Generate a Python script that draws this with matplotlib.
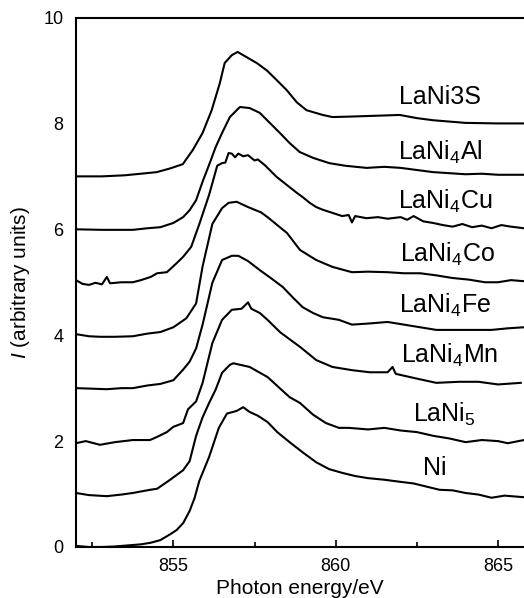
import matplotlib
matplotlib.use('Agg')
import matplotlib.pyplot as plt
from matplotlib.ticker import MultipleLocator

plt.rcParams['font.family'] = ['Liberation Sans', 'DejaVu Sans']
plt.rcParams['mathtext.fontset'] = 'custom'
plt.rcParams['mathtext.rm'] = 'Liberation Sans'
plt.rcParams['mathtext.it'] = 'Liberation Sans:italic'
plt.rcParams['mathtext.default'] = 'regular'

# spectra (already offset by 1 unit each)
ni_x = [852.0, 852.4, 852.8, 853.2, 853.6, 854.0, 854.3, 854.6, 854.9, 855.1, 855.3, 855.5,
        855.65, 855.8, 856.1, 856.4, 856.65, 856.95, 857.15, 857.35, 857.6, 857.9, 858.2,
        858.6, 859.0, 859.4, 859.8, 860.2, 860.6, 861.0, 861.5, 862.0, 862.4, 862.8, 863.2,
        863.6, 864.0, 864.4, 864.8, 865.2, 865.8]
ni_y = [0.02, 0.0, 0.0, 0.01, 0.03, 0.05, 0.08, 0.13, 0.24, 0.32, 0.45, 0.68,
        0.92, 1.25, 1.7, 2.25, 2.52, 2.57, 2.64, 2.55, 2.48, 2.36, 2.17,
        1.97, 1.78, 1.6, 1.47, 1.4, 1.34, 1.3, 1.27, 1.23, 1.2, 1.14, 1.08,
        1.07, 1.02, 0.99, 0.93, 0.97, 0.94]

lani5_x = [852.0, 852.4, 852.95, 853.4, 853.75, 854.28, 854.5, 854.9, 855.3, 855.5, 855.7,
           855.9, 856.1, 856.3, 856.5, 856.74, 856.85, 857.35, 857.9, 858.58, 858.9, 859.3,
           859.7, 860.1, 860.4, 861.0, 861.5, 862.0, 862.5, 863.0, 863.5, 864.0, 864.5,
           865.0, 865.3, 865.8]
lani5_y = [1.02, 0.98, 0.96, 0.99, 1.02, 1.08, 1.1, 1.27, 1.45, 1.62, 2.1,
           2.45, 2.72, 2.97, 3.29, 3.44, 3.47, 3.4, 3.21, 2.83, 2.72, 2.5,
           2.34, 2.25, 2.25, 2.22, 2.25, 2.2, 2.17, 2.1, 2.05, 1.98, 2.02,
           2.0, 1.96, 2.02]

mn_x = [852.0, 852.3, 852.74, 853.2, 853.75, 854.28, 854.5, 854.8, 855.0, 855.3, 855.45,
        855.7, 855.9, 856.2, 856.5, 856.8, 857.1, 857.3, 857.4, 857.66, 857.9, 858.3,
        858.9, 859.4, 859.9, 860.5, 861.05, 861.6, 861.75, 861.85, 862.5, 863.1, 863.8,
        864.4, 865.0, 865.7]
mn_y = [1.96, 2.0, 1.93, 1.98, 2.02, 2.02, 2.08, 2.17, 2.27, 2.34, 2.6,
        2.75, 3.1, 3.85, 4.29, 4.48, 4.5, 4.62, 4.5, 4.42, 4.29, 4.05,
        3.78, 3.53, 3.4, 3.34, 3.3, 3.3, 3.4, 3.27, 3.18, 3.1, 3.12,
        3.12, 3.07, 3.1]

fe_x = [852.0, 852.5, 852.95, 853.4, 853.75, 854.2, 854.6, 855.0, 855.3, 855.5, 855.7,
        855.9, 856.2, 856.5, 856.8, 857.0, 857.3, 857.66, 858.0, 858.37, 858.7, 858.98,
        859.3, 859.6, 860.1, 860.5, 861.0, 861.6, 862.1, 862.6, 863.1, 863.6, 864.2,
        864.8, 865.3, 865.8]
fe_y = [3.0, 2.99, 2.98, 3.0, 3.0, 3.05, 3.08, 3.15, 3.35, 3.5, 3.75,
        4.2, 4.99, 5.42, 5.5, 5.5, 5.4, 5.23, 5.08, 4.91, 4.7, 4.53,
        4.42, 4.34, 4.29, 4.2, 4.22, 4.25, 4.2, 4.15, 4.1, 4.1, 4.1,
        4.1, 4.13, 4.15]

co_x = [852.0, 852.4, 852.74, 853.2, 853.75, 854.2, 854.6, 855.0, 855.4, 855.7, 855.9,
        856.2, 856.5, 856.7, 856.95, 857.3, 857.7, 857.9, 858.2, 858.5, 858.9, 859.4,
        859.9, 860.5, 861.0, 861.6, 862.1, 862.6, 863.1, 863.6, 864.1, 864.6, 865.0,
        865.4, 865.8]
co_y = [4.02, 3.98, 3.97, 3.97, 3.98, 4.03, 4.06, 4.15, 4.32, 4.6, 5.3,
        6.1, 6.4, 6.5, 6.52, 6.42, 6.32, 6.23, 6.08, 5.93, 5.61, 5.42,
        5.29, 5.19, 5.2, 5.19, 5.17, 5.17, 5.13, 5.08, 5.05, 5.0, 5.0,
        5.04, 5.02]

cu_x = [852.0, 852.2, 852.4, 852.6, 852.8, 852.95, 853.05, 853.4, 853.75, 854.0, 854.3,
        854.5, 854.8, 855.1, 855.3, 855.55, 855.8, 856.1, 856.35, 856.5, 856.6, 856.7,
        856.8, 856.9, 857.0, 857.15, 857.3, 857.5, 857.6, 857.82, 858.0, 858.18, 858.49,
        858.8, 859.0, 859.2, 859.4, 859.6, 859.9, 860.2, 860.4, 860.5, 860.6, 860.95,
        861.3, 861.6, 862.0, 862.2, 862.4, 862.7, 863.0, 863.3, 863.6, 863.9, 864.2,
        864.5, 864.8, 865.1, 865.4, 865.8]
cu_y = [5.04, 4.97, 4.95, 4.99, 4.96, 5.1, 4.98, 5.0, 5.0, 5.04, 5.1,
        5.17, 5.19, 5.36, 5.48, 5.67, 6.1, 6.65, 7.2, 7.25, 7.26, 7.44,
        7.43, 7.36, 7.43, 7.38, 7.4, 7.3, 7.32, 7.21, 7.1, 6.99, 6.84,
        6.69, 6.6, 6.5, 6.42, 6.37, 6.31, 6.25, 6.27, 6.13, 6.25, 6.21,
        6.23, 6.2, 6.23, 6.18, 6.25, 6.15, 6.12, 6.08, 6.05, 6.1, 6.04,
        6.07, 6.02, 6.08, 6.05, 6.02]

al_x = [852.0, 852.8, 853.75, 854.2, 854.6, 855.0, 855.3, 855.5, 855.7, 855.9, 856.12,
        856.3, 856.5, 856.74, 857.05, 857.35, 857.66, 857.97, 858.28, 858.58, 858.89,
        859.3, 859.8, 860.3, 860.95, 861.5, 862.0, 862.5, 863.0, 863.5, 864.0, 864.5,
        865.0, 865.8]
al_y = [6.0, 5.99, 5.99, 6.02, 6.04, 6.12, 6.23, 6.36, 6.55, 6.9, 7.25,
        7.55, 7.82, 8.12, 8.31, 8.29, 8.2, 8.01, 7.82, 7.63, 7.46,
        7.35, 7.25, 7.2, 7.16, 7.18, 7.16, 7.12, 7.08, 7.06, 7.04, 7.05,
        7.03, 7.03]

s_x = [852.0, 852.8, 853.5, 854.0, 854.49, 854.9, 855.29, 855.6, 855.9, 856.18, 856.43,
       856.58, 856.8, 856.98, 857.26, 857.57, 857.88, 858.18, 858.49, 858.8, 859.1,
       859.6, 859.9, 860.5, 861.0, 861.5, 861.97, 862.5, 863.0, 864.0, 865.0, 865.8]
s_y = [7.0, 7.0, 7.02, 7.05, 7.08, 7.15, 7.23, 7.5, 7.82, 8.25, 8.76,
       9.14, 9.29, 9.35, 9.25, 9.14, 9.0, 8.82, 8.63, 8.4, 8.25,
       8.16, 8.12, 8.13, 8.14, 8.15, 8.16, 8.1, 8.06, 8.01, 8.0, 8.0]

labels = ['Ni', 'LaNi$_5$', 'LaNi$_4$Mn', 'LaNi$_4$Fe', 'LaNi$_4$Co',
          'LaNi$_4$Cu', 'LaNi$_4$Al', 'LaNi3S']
label_x = [863.05, 863.34, 863.5, 863.38, 863.45, 863.37, 863.23, 863.2]
label_y = [1.36, 2.36, 3.47, 4.42, 5.38, 6.38, 7.31, 8.37]

curves = [(ni_x, ni_y), (lani5_x, lani5_y), (mn_x, mn_y), (fe_x, fe_y),
          (co_x, co_y), (cu_x, cu_y), (al_x, al_y), (s_x, s_y)]

fig = plt.figure(figsize=(5.24, 5.98), dpi=100)
ax = fig.add_axes([0.145, 0.0853, 0.855, 0.8854])

for (x, y) in curves:
    ax.plot(x, y, color='black', linewidth=1.5, solid_joinstyle='round')

for lab, lx, ly in zip(labels, label_x, label_y):
    ax.text(lx, ly, lab, ha='center', va='baseline', fontsize=18)

ax.set_xlim(852, 865.8)
ax.set_ylim(0, 10)
ax.set_yticks([0, 2, 4, 6, 8, 10])
ax.xaxis.set_major_locator(MultipleLocator(5))
ax.xaxis.set_minor_locator(MultipleLocator(2.5))
ax.tick_params(axis='x', which='major', direction='in', length=5, width=1.2,
               labelsize=13, pad=8)
ax.tick_params(axis='x', which='minor', direction='in', length=3.5, width=1.2)
ax.tick_params(axis='y', length=0, labelsize=13, pad=9)
for side in ['left', 'bottom', 'top']:
    ax.spines[side].set_linewidth(1.5)
ax.spines['right'].set_visible(False)

ax.set_xlabel('Photon energy/eV', fontsize=15, labelpad=3)
ax.set_ylabel(r'$\mathit{I}$ (arbitrary units)', fontsize=15)
ax.yaxis.set_label_coords(-0.098, 0.5)

fig.savefig('out.png', dpi=100)
